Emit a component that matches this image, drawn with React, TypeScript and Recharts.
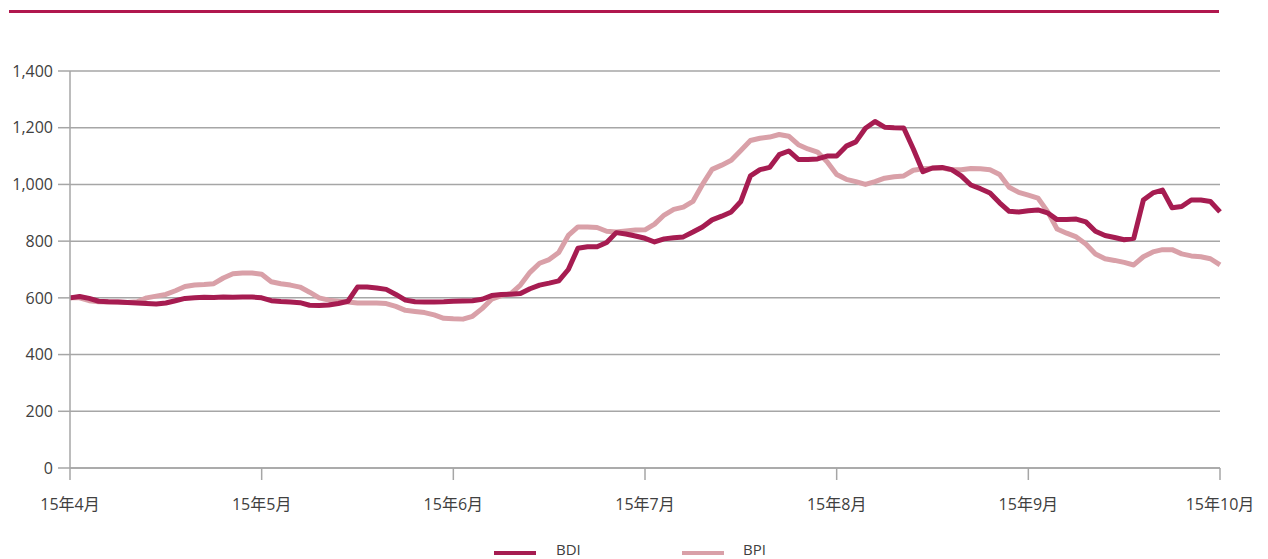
import { LineChart, Line, XAxis, YAxis, CartesianGrid } from 'recharts';

const months = ['15年4月', '15年5月', '15年6月', '15年7月', '15年8月', '15年9月', '15年10月'];
const monthTicks = [0, 20, 40, 60, 80, 100, 120];
const yTicks = [0, 200, 400, 600, 800, 1000, 1200, 1400];

const bdi = [
    600, 605, 598, 588, 586, 585, 584, 582, 580, 578,
    582, 590, 598, 600, 602, 601, 603, 602, 603, 603,
    600, 590, 587, 585, 583, 574, 573, 575, 580, 588,
    638, 638, 635, 630, 612, 592, 586, 585, 585, 586,
    588, 589, 590, 595, 608, 612, 613, 615, 632, 645,
    652, 660, 700, 775, 780, 780, 795, 830, 825, 818,
    810, 797, 808, 812, 815, 832, 850, 875, 888, 903,
    940, 1030, 1052, 1060, 1105, 1118, 1088, 1088, 1090, 1100,
    1100, 1135, 1150, 1198, 1222, 1202, 1200, 1199, 1125, 1045,
    1058, 1060, 1052, 1030, 998, 985, 970, 935, 905, 903,
    907, 910, 900, 876, 876, 878, 868, 835, 820, 813,
    805, 810, 945, 970, 980, 918, 922, 945, 945, 940,
    903,
];

const bpi = [
    600, 600, 590, 586, 585, 585, 584, 586, 600, 606,
    612, 625, 640, 645, 647, 650, 670, 685, 688, 688,
    683, 657, 650, 645, 638, 620, 600, 592, 588, 585,
    582, 582, 582, 580, 570, 556, 552, 548, 540, 528,
    526, 525, 535, 562, 595, 608, 615, 645, 690, 722,
    735, 760, 820, 850, 850, 848, 835, 832, 836, 839,
    840, 860, 892, 912, 920, 940, 1000, 1053, 1068, 1085,
    1120, 1155, 1163, 1167, 1176, 1170, 1140, 1125, 1114, 1080,
    1035, 1018, 1010, 1000, 1010, 1022, 1027, 1030, 1050, 1055,
    1057, 1058, 1052, 1052, 1056, 1055, 1052, 1035, 990, 972,
    962, 952, 905, 843, 828, 815, 790, 755, 738, 732,
    725, 716, 745, 762, 770, 770, 755, 748, 745, 738,
    716,
];

const data = bdi.map((v, i) => ({ t: i, BDI: v, BPI: bpi[i] }));

const DARK = '#A61C51';
const LIGHT = '#D9A0A8';
const GRID = '#A6A6A6';
const TEXT = '#404040';
const FONT = '"Open Sans", "Noto Sans CJK JP", sans-serif';

export default function App() {
    return (
        <div style={{ position: 'relative', width: 1268, height: 559, fontFamily: FONT, background: '#fff', overflow: 'hidden' }}>
            <style>{'body{margin:0}'}</style>
            <div style={{ position: 'absolute', left: 9, top: 10, width: 1210, height: 3, background: '#B0174E' }} />
            <LineChart width={1268} height={559} data={data}
                margin={{ top: 71, right: 48, left: 10, bottom: 41 }}>
                <CartesianGrid horizontal vertical={false} stroke={GRID} strokeWidth={1.5} />
                <XAxis dataKey="t" type="number" domain={[0, 120]} ticks={monthTicks}
                    tickFormatter={(v) => months[monthTicks.indexOf(v)]}
                    height={50} tickSize={12} tickMargin={19}
                    axisLine={{ stroke: GRID, strokeWidth: 1.5 }} tickLine={{ stroke: GRID, strokeWidth: 1.5 }}
                    tick={{ fill: TEXT, fontSize: 16, fontFamily: FONT }} />
                <YAxis domain={[0, 1400]} ticks={yTicks} width={60}
                    tickFormatter={(v) => v.toLocaleString('en-US')}
                    tickSize={12} tickMargin={5}
                    axisLine={{ stroke: GRID, strokeWidth: 1.5 }} tickLine={{ stroke: GRID, strokeWidth: 1.5 }}
                    tick={{ fill: TEXT, fontSize: 16, fontFamily: FONT }} />
                <Line dataKey="BPI" type="linear" stroke={LIGHT} strokeWidth={5} dot={false}
                    strokeLinejoin="round" isAnimationActive={false} />
                <Line dataKey="BDI" type="linear" stroke={DARK} strokeWidth={5} dot={false}
                    strokeLinejoin="round" isAnimationActive={false} />
            </LineChart>
            <div style={{ position: 'absolute', top: 539, left: 0, width: 1268, height: 20, fontSize: 15, lineHeight: '20px', color: TEXT }}>
                <div style={{ position: 'absolute', left: 494, top: 12, width: 42, height: 4, background: DARK }} />
                <span style={{ position: 'absolute', left: 556, top: 0 }}>BDI</span>
                <div style={{ position: 'absolute', left: 682, top: 12, width: 42, height: 4, background: LIGHT }} />
                <span style={{ position: 'absolute', left: 743, top: 0 }}>BPI</span>
            </div>
        </div>
    );
}
